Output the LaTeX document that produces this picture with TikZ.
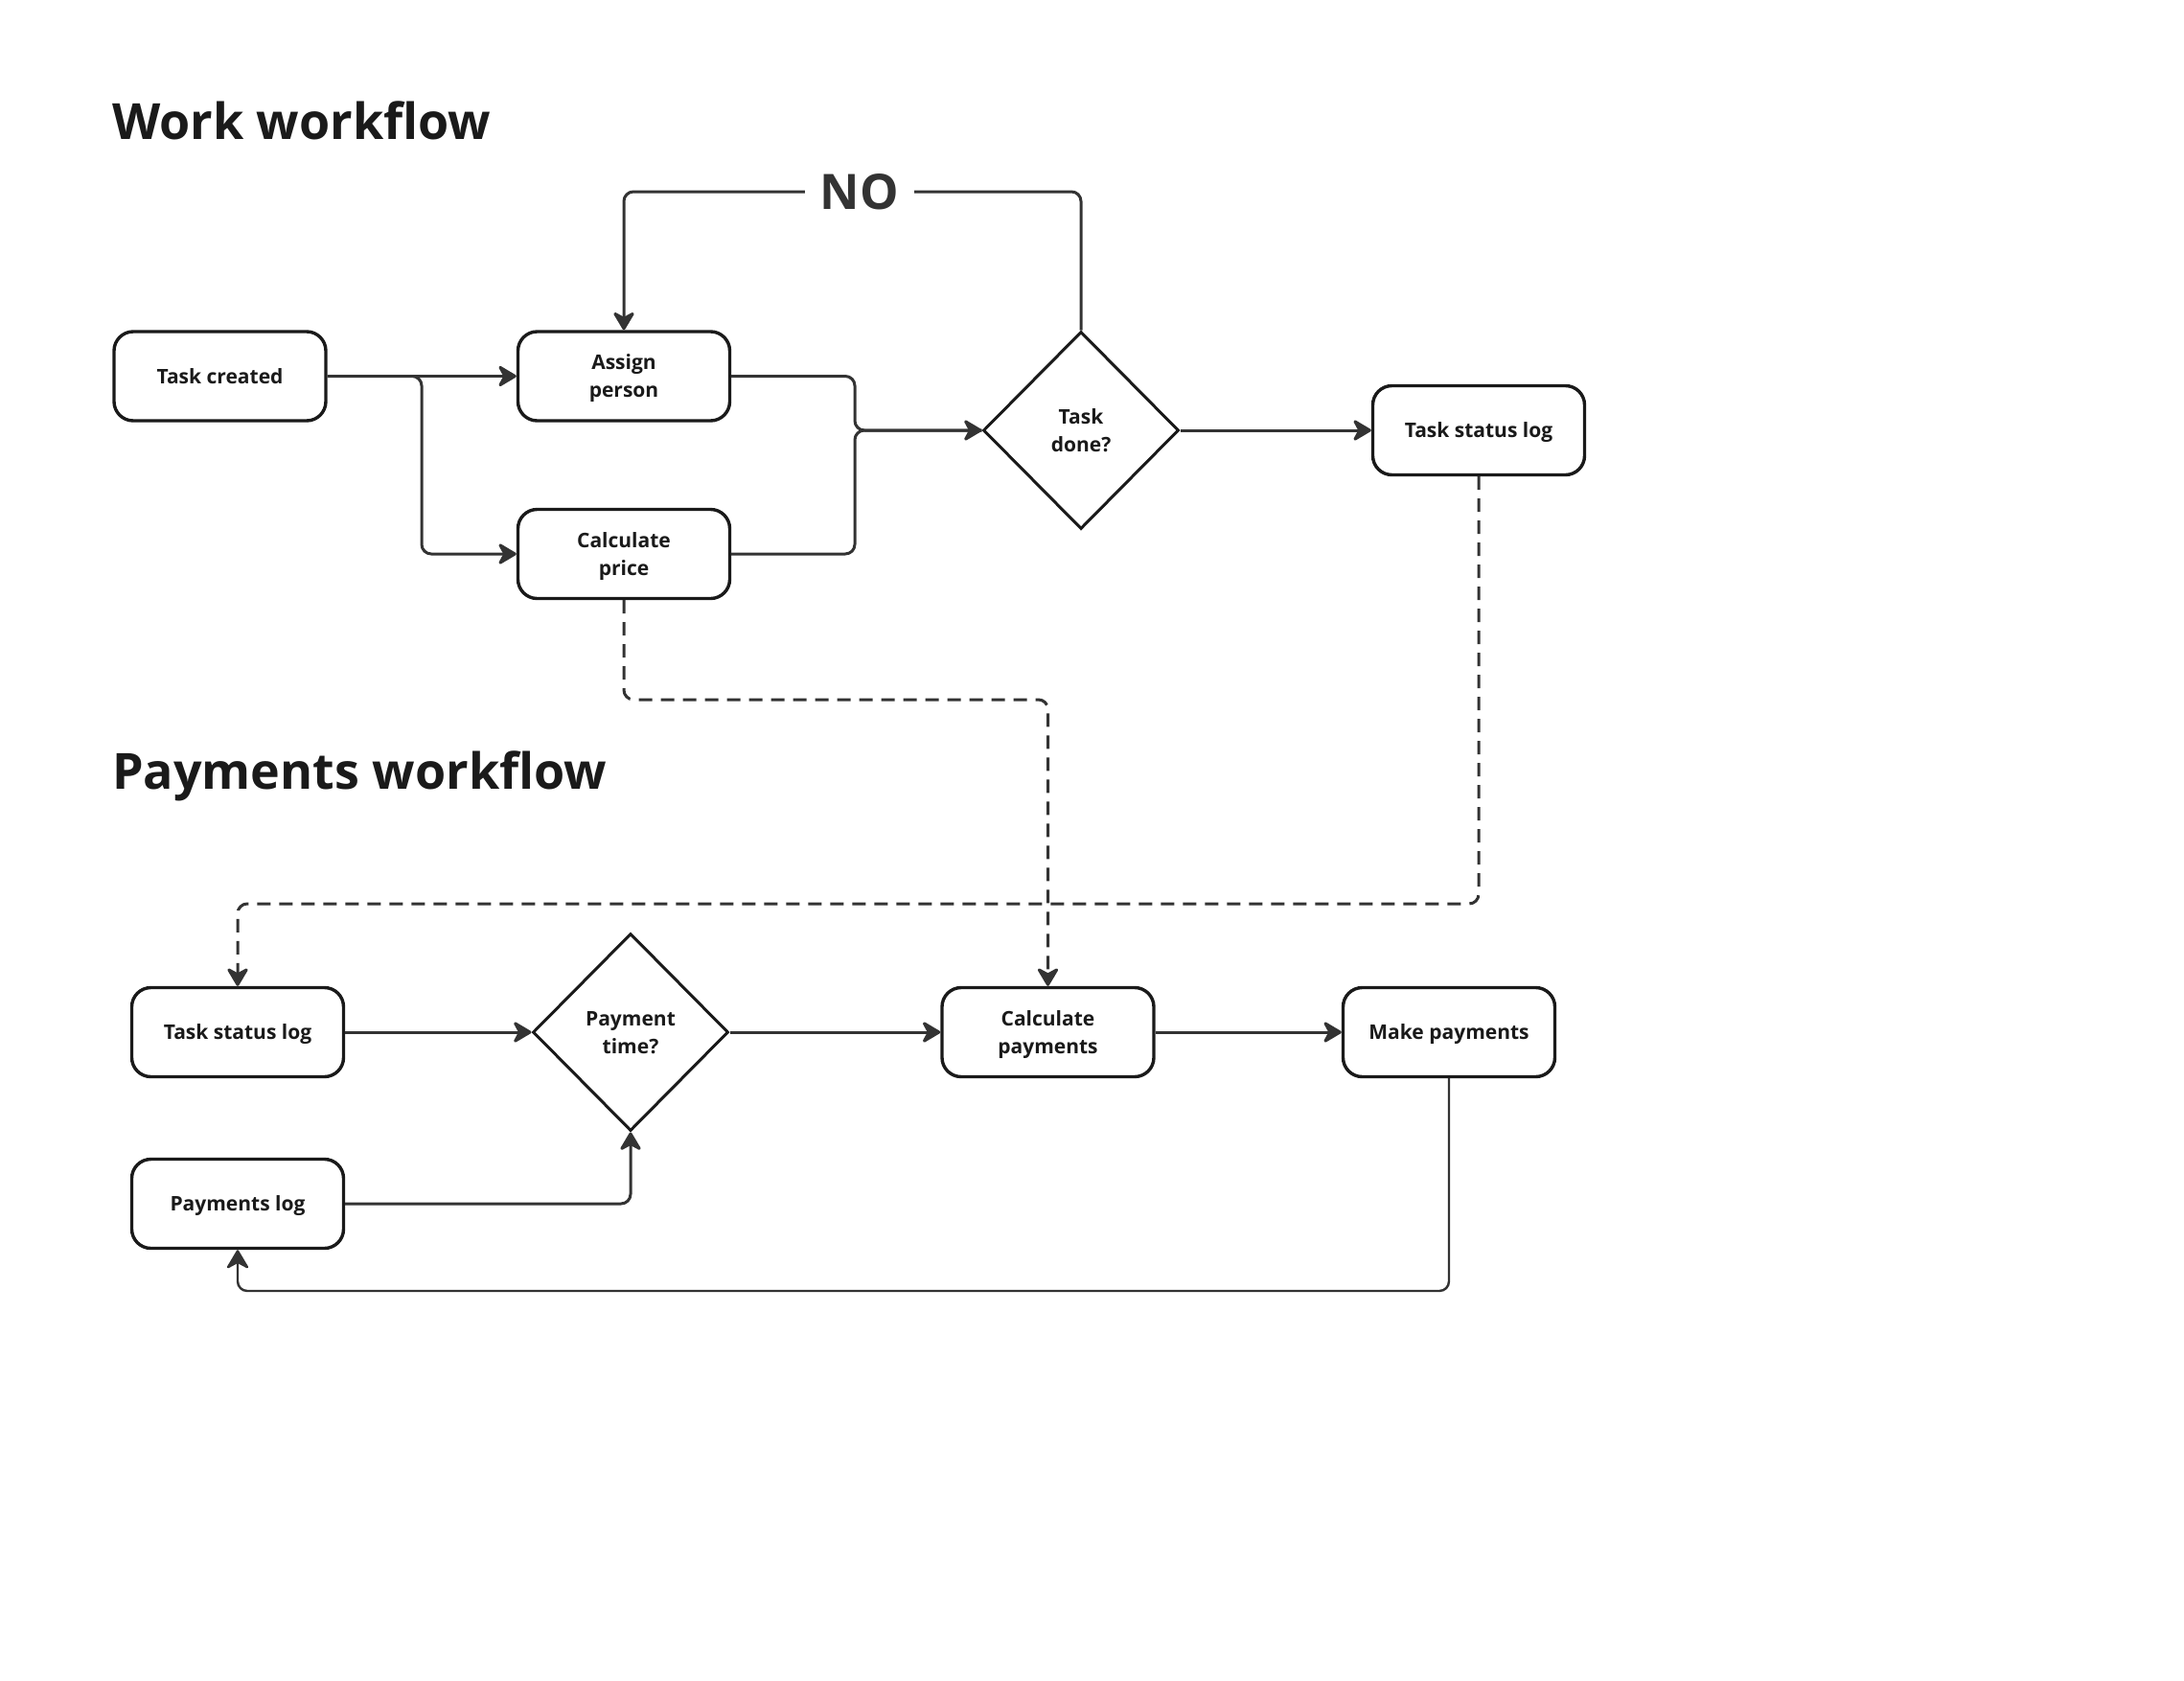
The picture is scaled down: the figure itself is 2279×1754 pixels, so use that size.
\documentclass[tikz,border=0pt]{standalone}
\usepackage{fontspec}
\setmainfont{Open Sans}
\usetikzlibrary{shapes.geometric,arrows.meta,calc}
\definecolor{ink}{HTML}{1A1A1A}
\definecolor{wire}{HTML}{333333}
\begin{document}
\begin{tikzpicture}[x=1pt,y=-1pt,
  box/.style={draw=ink, line width=3.4pt, rounded corners=20pt, minimum width=221pt, minimum height=93pt, align=center, font=\fontsize{21}{29}\selectfont\bfseries, text=ink, inner sep=0pt, text depth=-4pt},
  dia/.style={draw=ink, diamond, line width=3pt, minimum width=204pt, minimum height=206pt, align=center, font=\fontsize{21}{29}\selectfont\bfseries, text=ink, inner sep=0pt, text depth=-4pt},
  conn/.style={draw=wire, line width=3pt, rounded corners=10pt},
  tip/.style={-{Stealth[length=22pt,width=26pt,inset=7pt,round]}},
  arr/.style={conn, tip},
  dconn/.style={conn, dash pattern=on 14pt off 9pt},
  darr/.style={dconn, tip},
  title/.style={font=\fontsize{52}{60}\selectfont\bfseries, text=ink, anchor=base west, inner sep=0pt}
]
\fill[white] (0,0) rectangle (2279,1754);
\useasboundingbox (0,0) rectangle (2279,1754);

\node[title] (t1) at (117,145) {Work workflow};
\node[title] (t2) at (117,823) {Payments workflow};

\node[box] (tc) at (229.5,392.5) {Task created};
\node[box] (ap) at (651,392.5) {Assign\\person};
\node[box] (cp) at (651,578) {Calculate\\price};
\node[dia] (td) at (1128,449) {Task\\done?};
\node[box] (tsl1) at (1543,449) {Task status log};

\node[box] (tsl2) at (248,1077) {Task status log};
\node[dia] (pt) at (658,1077) {Payment\\time?};
\node[box] (cpay) at (1093.5,1077) {Calculate\\payments};
\node[box] (mp) at (1512,1077) {Make payments};
\node[box] (pl) at (248,1256) {Payments log};

\node[font=\fontsize{51}{56}\selectfont\bfseries, text=wire, fill=white, inner xsep=16pt, inner ysep=4pt] (no) at (897,200) {NO};

\coordinate (b1) at (440,0);
\coordinate (m1) at (892,0);
\coordinate (d1) at (0,730);
\coordinate (d2) at (0,943);
\coordinate (d3) at (0,1347);

\draw[arr] (tc.east) -- (ap.west);
\draw[arr] (tc.east) -- (b1 |- tc.east) |- (cp.west);
\draw[conn] (ap.east) -- (m1 |- ap.east) |- (td.west);
\draw[arr] (cp.east) -- (m1 |- cp.east) |- (td.west);
\draw[arr] (td.east) -- (tsl1.west);
\draw[conn] (td.north) |- (no.east);
\draw[arr] (no.west) -| (ap.north);

\draw[darr] (cp.south) -- (cp.south |- d1) -| (cpay.north);
\draw[darr] (tsl1.south) -- (tsl1.south |- d2) -| (tsl2.north);

\draw[arr] (tsl2.east) -- (pt.west);
\draw[arr] (pt.east) -- (cpay.west);
\draw[arr] (cpay.east) -- (mp.west);
\draw[arr] (pl.east) -| (pt.south);
\draw[arr, line width=2.4pt] (mp.south) -- (mp.south |- d3) -| (pl.south);
\end{tikzpicture}
\end{document}
